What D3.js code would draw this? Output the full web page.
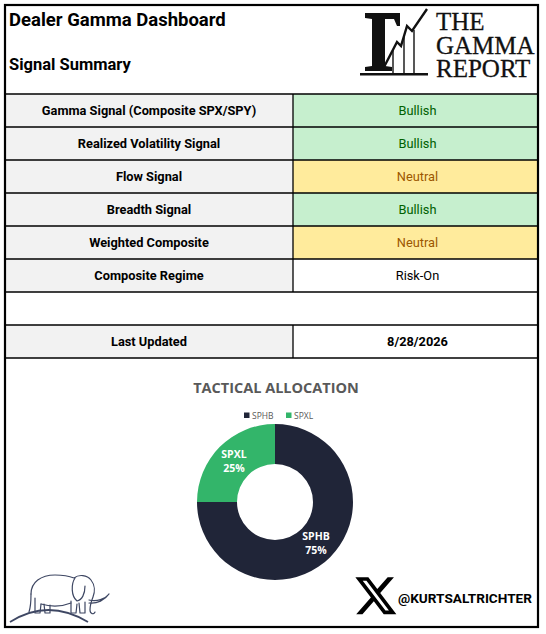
<!DOCTYPE html>
<html>
<head>
<meta charset="utf-8">
<script src="https://cdn.jsdelivr.net/npm/d3@7"></script>
<style>
  body { margin: 0; background: #fff; }
  svg { display: block; }
</style>
</head>
<body>
<svg id="chart" width="546" height="634"></svg>
<script>
// Signal table
const signalNames = ["Gamma Signal (Composite SPX/SPY)", "Realized Volatility Signal", "Flow Signal",
  "Breadth Signal", "Weighted Composite", "Composite Regime"];
const signalValues = ["Bullish", "Bullish", "Neutral", "Bullish", "Neutral", "Risk-On"];
const lastUpdated = "8/28/2026";

// Allocation donut
const allocationTickers = ["SPHB", "SPXL"];
const allocationWeights = [75, 25];

const box = { left: 5, right: 538, top: 5, bottom: 627 };
const colSplit = 293;
const rowTop = 94, rowH = 33;

const svg = d3.select("#chart");

const cellFill = { Bullish: "#c6efce", Neutral: "#ffeb9c" };
const cellText = { Bullish: "#006100", Neutral: "#9c5700" };

// ---- header
svg.append("text").attr("x", 9).attr("y", 26)
  .attr("font-family", "Roboto").attr("font-weight", "bold").attr("font-size", 18.5)
  .text("Dealer Gamma Dashboard");
svg.append("text").attr("x", 9).attr("y", 70)
  .attr("font-family", "Roboto").attr("font-weight", "bold").attr("font-size", 16.5)
  .text("Signal Summary");

// logo
const logo = svg.append("g");
logo.append("path")
  .attr("d", "M365,13 L400,13 L400,26 L397,26 L394,19 L385,19 L385,66 L392,67 L392,71 L365,71 L365,67 L372,66 L372,19 L365,18 Z")
  .attr("fill", "#111");
const zig = [[383, 69], [397, 42], [401, 46], [407, 26], [412, 31], [427, 9]];
logo.selectAll(".bar").data([[393, 50], [404, 36], [414, 30]])
  .enter().append("line")
  .attr("x1", d => d[0]).attr("x2", d => d[0])
  .attr("y1", d => d[1]).attr("y2", 73)
  .attr("stroke", "#111").attr("stroke-width", 1.4);
logo.append("path").attr("d", d3.line()(zig))
  .attr("fill", "none").attr("stroke", "#111").attr("stroke-width", 2.4);
logo.append("rect").attr("x", 360).attr("y", 73).attr("width", 68).attr("height", 2.5).attr("fill", "#111");
const logoText = logo.append("text")
  .attr("font-family", "Liberation Serif").attr("font-size", 25).attr("fill", "#111")
  .attr("stroke", "#111").attr("stroke-width", 0.3);
["THE", "GAMMA", "REPORT"].forEach((t, i) => {
  logoText.append("tspan").attr("x", 436).attr("y", 30 + i * 23.5).text(t);
});

// ---- table
const rows = signalNames.map((n, i) => ({ name: n, value: signalValues[i] }));
const table = svg.append("g");

rows.forEach((d, i) => {
  const y = rowTop + i * rowH;
  table.append("rect").attr("x", box.left).attr("y", y).attr("width", colSplit - box.left).attr("height", rowH)
    .attr("fill", "#f2f2f2");
  table.append("rect").attr("x", colSplit).attr("y", y).attr("width", box.right - colSplit).attr("height", rowH)
    .attr("fill", cellFill[d.value] || "#fff");
  table.append("text").attr("x", (box.left + colSplit) / 2).attr("y", y + rowH / 2 + 4.5)
    .attr("text-anchor", "middle").attr("font-family", "Roboto").attr("font-weight", "bold")
    .attr("font-size", 12.8).text(d.name);
  table.append("text").attr("x", (colSplit + box.right) / 2 + 2).attr("y", y + rowH / 2 + 4.5)
    .attr("text-anchor", "middle").attr("font-family", "Roboto")
    .attr("font-size", 12.8).attr("fill", cellText[d.value] || "#000").text(d.value);
});

// last updated row (after one empty merged row)
const luY = rowTop + (rows.length + 1) * rowH;
table.append("rect").attr("x", box.left).attr("y", luY).attr("width", colSplit - box.left).attr("height", rowH)
  .attr("fill", "#f2f2f2");
table.append("text").attr("x", (box.left + colSplit) / 2).attr("y", luY + rowH / 2 + 4.5)
  .attr("text-anchor", "middle").attr("font-family", "Roboto").attr("font-weight", "bold")
  .attr("font-size", 12.8).text("Last Updated");
table.append("text").attr("x", (colSplit + box.right) / 2 + 2).attr("y", luY + rowH / 2 + 4.5)
  .attr("text-anchor", "middle").attr("font-family", "Roboto").attr("font-weight", "bold")
  .attr("font-size", 12.8).text(lastUpdated);

// grid lines
const nLines = rows.length + 3;
for (let i = 0; i < nLines; i++) {
  const y = rowTop + i * rowH;
  table.append("line").attr("x1", box.left).attr("x2", box.right).attr("y1", y).attr("y2", y)
    .attr("stroke", "#000").attr("stroke-width", 1.3);
}
[[rowTop, rowTop + rows.length * rowH], [luY, luY + rowH]].forEach(s => {
  table.append("line").attr("x1", colSplit).attr("x2", colSplit).attr("y1", s[0]).attr("y2", s[1])
    .attr("stroke", "#000").attr("stroke-width", 1.3);
});

// ---- donut
const alloc = allocationTickers.map((t, i) => ({ ticker: t, weight: allocationWeights[i] }));
const color = d3.scaleOrdinal().domain(allocationTickers).range(["#202538", "#33b56a"]);
const cx = 275, cy = 502, R = 78, r0 = 38;

svg.append("text").attr("x", cx + 1).attr("y", 393).attr("text-anchor", "middle")
  .attr("font-family", "Open Sans").attr("font-weight", "bold").attr("font-size", 14.5)
  .attr("fill", "#595959").text("TACTICAL ALLOCATION");

const legend = svg.append("g").attr("transform", "translate(244,416)");
let lx = 0;
alloc.forEach(d => {
  legend.append("rect").attr("x", lx).attr("y", -3.5).attr("width", 5.5).attr("height", 5.5).attr("fill", color(d.ticker));
  legend.append("text").attr("x", lx + 8).attr("y", 3).attr("font-family", "Open Sans")
    .attr("font-size", 8.5).attr("fill", "#595959").text(d.ticker);
  lx += 42;
});

const pie = d3.pie().sort(null).value(d => d.weight);
const arc = d3.arc().innerRadius(r0).outerRadius(R);
const donut = svg.append("g").attr("transform", `translate(${cx},${cy})`);
const arcs = pie(alloc);
donut.selectAll("path").data(arcs).enter().append("path")
  .attr("d", arc).attr("fill", d => color(d.data.ticker));
const lab = donut.selectAll(".lab").data(arcs).enter().append("text")
  .attr("transform", d => `translate(${arc.centroid(d)})`)
  .attr("text-anchor", "middle").attr("font-family", "Open Sans").attr("font-weight", "bold")
  .attr("font-size", 10.5).attr("fill", "#fff");
lab.append("tspan").attr("x", 0).attr("dy", "-0.25em").text(d => d.data.ticker);
lab.append("tspan").attr("x", 0).attr("dy", "1.3em").text(d => d.data.weight + "%");

// ---- footer: elephant
const ele = svg.append("g").attr("transform", "translate(27,572)")
  .attr("fill", "none").attr("stroke", "#3e4763").attr("stroke-width", 1.2)
  .attr("stroke-linecap", "round").attr("stroke-linejoin", "round");
ele.append("path").attr("d",
  "M4,22 C4,10 14,3 28,3 C36,3 42,4 47,6 C52,2 60,3 64,8 C68,13 68,20 66,25 C64,30 63,34 63,38 C63,42 67,43 68,40");
ele.append("path").attr("d", "M48,6 C44,12 44,24 50,29 C55,28 58,22 58,14");
ele.append("path").attr("d", "M62,28 C70,30 78,27 82,22 C78,28 70,32 62,31");
ele.append("path").attr("d", "M4,22 C4,28 4,34 2,40");
ele.append("path").attr("d", "M8,26 L8,41 L13,41 L14,32 M17,32 L18,41 L23,41 L23,33");
ele.append("path").attr("d", "M14,32 C24,35 34,35 44,31");
ele.append("path").attr("d", "M44,29 L44,41 L49,41 L50,32 M52,31 L53,41 L58,41 L58,30");
svg.append("path").attr("d", "M10,622 Q48,598 88,622")
  .attr("fill", "none").attr("stroke", "#3e4763").attr("stroke-width", 1.8);

// ---- footer: X handle
svg.append("path")
  .attr("d", "M18.244 2.25h3.308l-7.227 8.26 8.502 11.24H16.17l-5.214-6.817L4.99 21.75H1.68l7.73-8.835L1.254 2.25H8.08l4.713 6.231zm-1.161 17.52h1.833L7.084 4.126H5.117z")
  .attr("transform", "translate(353,573) scale(1.9)").attr("fill", "#000");
svg.append("text").attr("x", 398).attr("y", 603)
  .attr("font-family", "Roboto").attr("font-weight", "bold").attr("font-size", 13.6)
  .text("@KURTSALTRICHTER");

// ---- outer frame
svg.append("rect").attr("x", box.left).attr("y", box.top)
  .attr("width", box.right - box.left).attr("height", box.bottom - box.top)
  .attr("fill", "none").attr("stroke", "#000").attr("stroke-width", 2.2);
</script>
</body>
</html>
